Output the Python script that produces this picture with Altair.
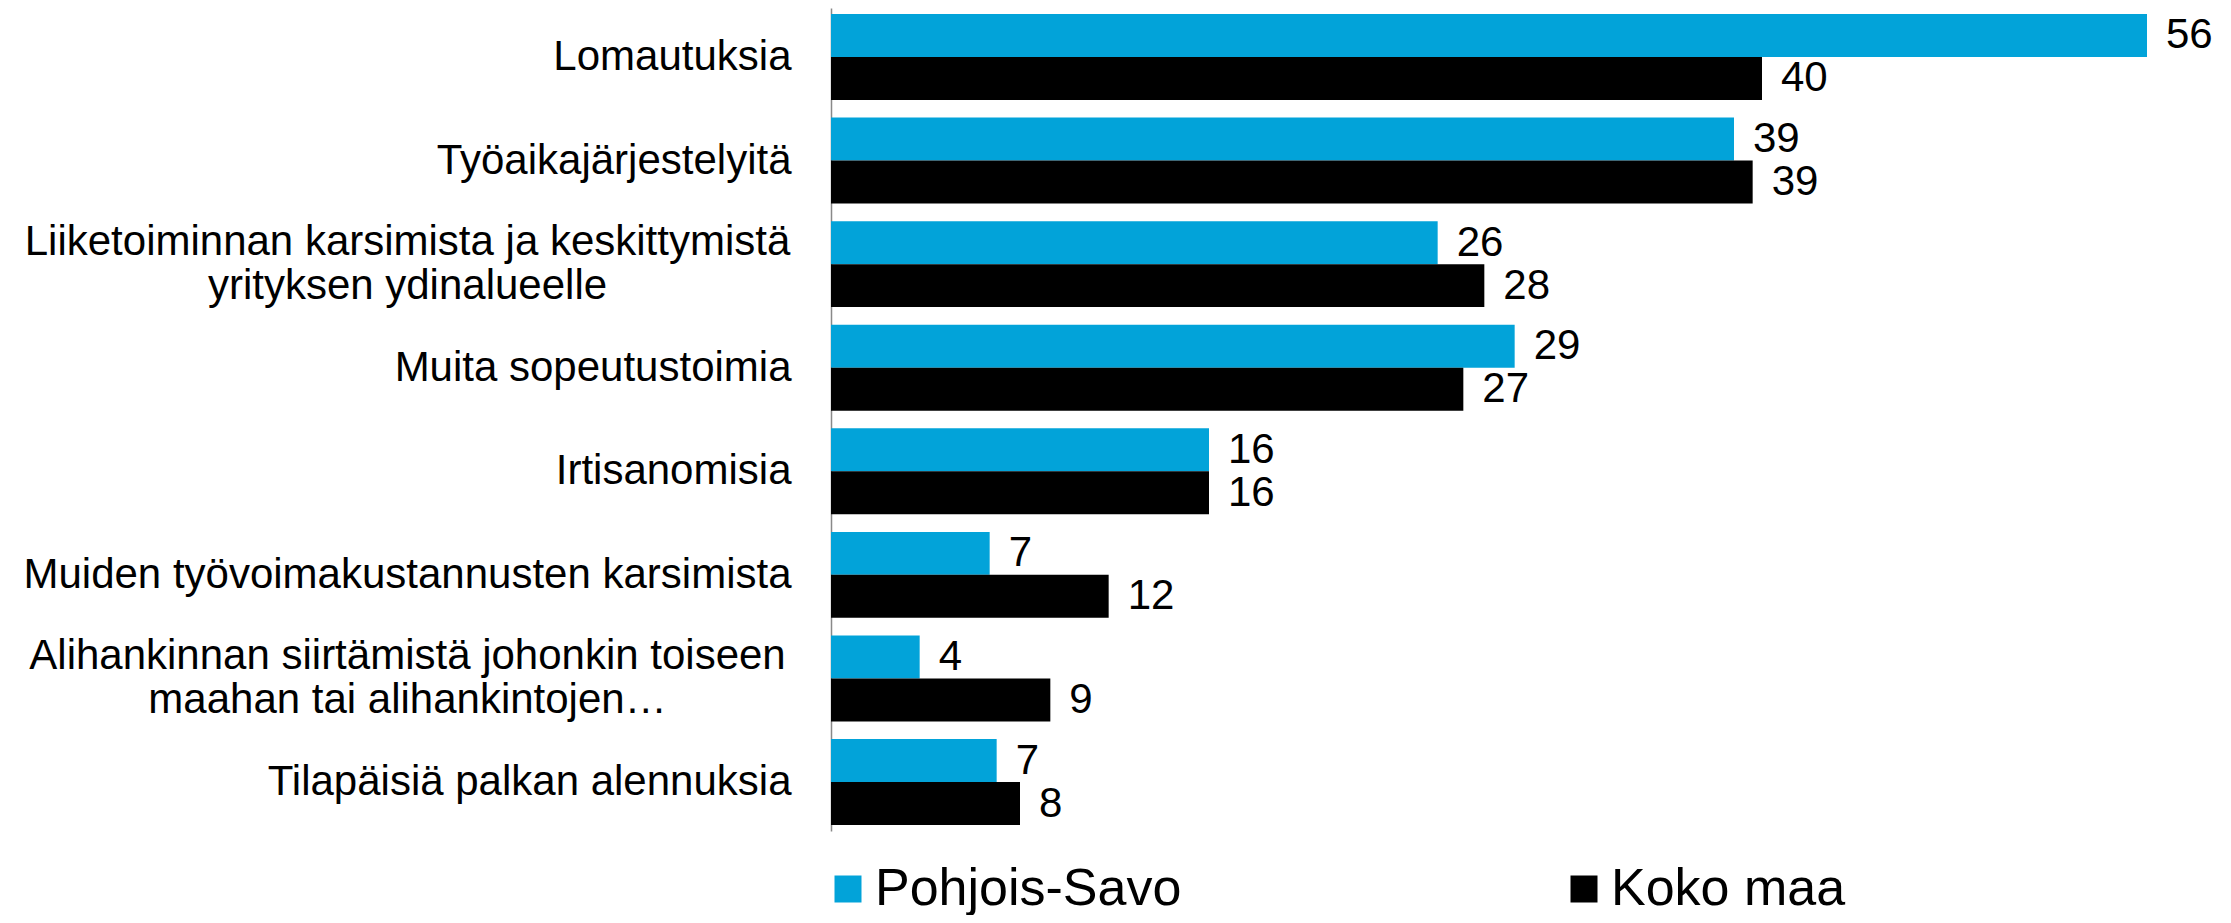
import altair as alt
import pandas as pd

categories = [
    "Lomautuksia",
    "Työaikajärjestelyitä",
    "Liiketoiminnan karsimista ja keskittymistä\nyrityksen ydinalueelle",
    "Muita sopeutustoimia",
    "Irtisanomisia",
    "Muiden työvoimakustannusten karsimista",
    "Alihankinnan siirtämistä johonkin toiseen\nmaahan tai alihankintojen…",
    "Tilapäisiä palkan alennuksia",
]
# bar lengths
pohjois_savo = [56.4, 38.7, 26.0, 29.3, 16.2, 6.8, 3.8, 7.1]
koko_maa = [39.9, 39.5, 28.0, 27.1, 16.2, 11.9, 9.4, 8.1]
# printed value labels
pohjois_savo_labels = [56, 39, 26, 29, 16, 7, 4, 7]
koko_maa_labels = [40, 39, 28, 27, 16, 12, 9, 8]
series = ["Pohjois-Savo", "Koko maa"]
colors = ["#02A3D9", "#000000"]

rows = []
for c, a, b, la, lb in zip(categories, pohjois_savo, koko_maa,
                           pohjois_savo_labels, koko_maa_labels):
    rows.append({"category": c, "series": series[0], "value": a, "label": str(la)})
    rows.append({"category": c, "series": series[1], "value": b, "label": str(lb)})
df = pd.DataFrame(rows)

FONT = "Liberation Sans"
MULTI = "indexof(datum.value, '\\n') >= 0"

base = alt.Chart(df).encode(
    y=alt.Y(
        "category:N",
        sort=categories,
        scale=alt.Scale(paddingInner=0.17, paddingOuter=0.058),
        axis=alt.Axis(
            title=None,
            ticks=False,
            domainColor="#898989",
            domainWidth=1.5,
            labelFontSize=42,
            labelFont=FONT,
            labelColor="#000000",
            labelLineHeight=44,
            labelLimit=1500,
            labelExpr="split(datum.label, '\\n')",
            labelAlign={"condition": {"test": MULTI, "value": "center"}, "value": "right"},
            labelPadding={"condition": {"test": MULTI, "value": 424}, "value": 40},
            labelOffset={"condition": {"test": MULTI, "value": -22}, "value": 0},
        ),
    ),
    yOffset=alt.YOffset(
        "series:N", sort=series, scale=alt.Scale(paddingInner=0, paddingOuter=0)
    ),
    x=alt.X("value:Q", scale=alt.Scale(domain=[0, 56.4], nice=False), axis=None),
)

bars = base.mark_bar().encode(
    color=alt.Color(
        "series:N",
        sort=series,
        scale=alt.Scale(domain=series, range=colors),
        legend=alt.Legend(
            title=None,
            orient="none",
            legendX=-9,
            legendY=855,
            direction="horizontal",
            symbolType="square",
            symbolSize=729,
            symbolStrokeWidth=0,
            labelFontSize=52,
            labelFont=FONT,
            labelColor="#000000",
            labelOffset=1,
            labelLimit=1000,
            columnPadding=376,
            padding=0,
        ),
    )
)

labels = base.mark_text(
    align="left", baseline="middle", dx=19, fontSize=42, font=FONT, color="#000000"
).encode(text="label:N")

chart = (
    alt.layer(bars, labels)
    .properties(
        width=1316,
        height=823,
        autosize=alt.AutoSizeParams(type="none"),
        padding={"left": 823, "top": 0, "right": 76, "bottom": 84},
    )
    .configure_view(stroke=None)
)

chart.save("out.html", embed_options={"renderer": "svg", "actions": False})
